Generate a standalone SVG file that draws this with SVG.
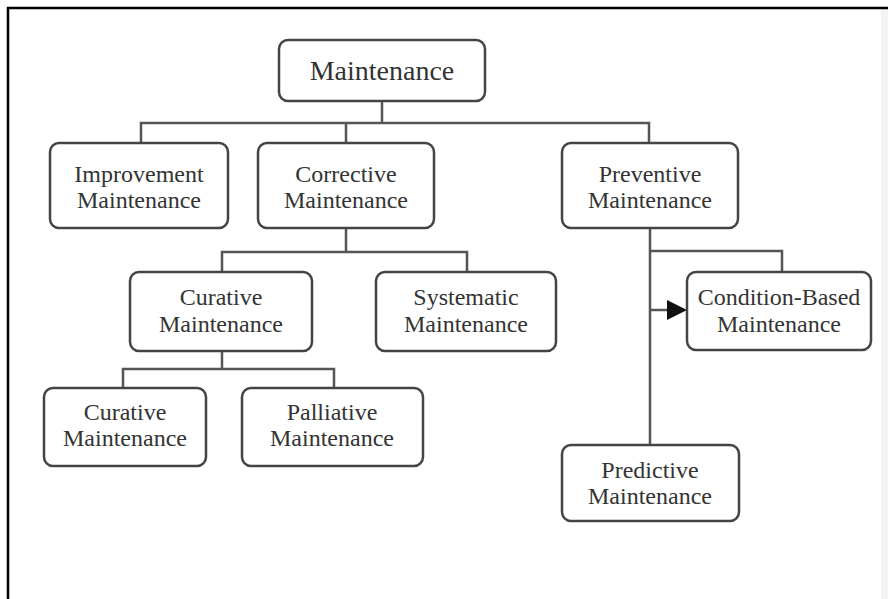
<svg xmlns="http://www.w3.org/2000/svg" width="888" height="599" viewBox="0 0 888 599">
  <style>
    .box { fill: #ffffff; stroke: #444444; stroke-width: 2.5; }
    .lbl { font-family: "Liberation Serif", "Times New Roman", serif; font-size: 24px; fill: #333333; text-anchor: middle; }
    .top { font-size: 28px; }
    .conn { fill: none; stroke: #555555; stroke-width: 2.5; }
  </style>
  <defs>
    <marker id="arrow" viewBox="0 0 10 10" refX="10" refY="5" markerWidth="8" markerHeight="8" markerUnits="userSpaceOnUse" orient="auto">
      <path d="M0,0 L10,5 L0,10 Z" fill="#111111"/>
    </marker>
  </defs>
  <rect x="0" y="0" width="888" height="599" fill="#ffffff"/>
  <rect x="881" y="9" width="7" height="590" fill="#f4f4f4"/>
  <g id="frame" stroke="#000000" stroke-width="2.5" fill="none">
    <line x1="7" y1="8" x2="888" y2="8"/>
    <line x1="8" y1="7" x2="8" y2="599"/>
  </g>

  <g id="connectors">
    <path class="conn" d="M382,101 V123"/>
    <path class="conn" d="M141,143 V123 H649 V143"/>
    <path class="conn" d="M346,123 V143"/>
    <path class="conn" d="M346,228 V252"/>
    <path class="conn" d="M222,272 V252 H467 V272"/>
    <path class="conn" d="M222,351 V369"/>
    <path class="conn" d="M123,388 V369 H334 V388"/>
    <path class="conn" d="M650,228 V445"/>
    <path class="conn" d="M650,251 H782 V272"/>
    <path d="M650,310 H668" stroke="#555555" stroke-width="2.5" fill="none"/>
    <path d="M667,300 L687,310 L667,320 Z" fill="#111111"/>
  </g>

  <g id="maintenance">
    <rect class="box" x="279" y="40" width="206" height="61" rx="9"/>
    <text class="lbl top" x="382" y="80">Maintenance</text>
  </g>
  <g id="improvement">
    <rect class="box" x="50" y="143" width="178" height="85" rx="9"/>
    <text class="lbl" x="139" y="182">Improvement</text>
    <text class="lbl" x="139" y="208">Maintenance</text>
  </g>
  <g id="corrective">
    <rect class="box" x="258" y="143" width="176" height="85" rx="9"/>
    <text class="lbl" x="346" y="182">Corrective</text>
    <text class="lbl" x="346" y="208">Maintenance</text>
  </g>
  <g id="preventive">
    <rect class="box" x="562" y="143" width="176" height="85" rx="9"/>
    <text class="lbl" x="650" y="182">Preventive</text>
    <text class="lbl" x="650" y="208">Maintenance</text>
  </g>
  <g id="curative">
    <rect class="box" x="130" y="272" width="182" height="79" rx="9"/>
    <text class="lbl" x="221" y="305">Curative</text>
    <text class="lbl" x="221" y="332">Maintenance</text>
  </g>
  <g id="systematic">
    <rect class="box" x="376" y="272" width="180" height="79" rx="9"/>
    <text class="lbl" x="466" y="305">Systematic</text>
    <text class="lbl" x="466" y="332">Maintenance</text>
  </g>
  <g id="condition-based">
    <rect class="box" x="687" y="272" width="184" height="78" rx="9"/>
    <text class="lbl" x="779" y="305">Condition-Based</text>
    <text class="lbl" x="779" y="332">Maintenance</text>
  </g>
  <g id="curative-2">
    <rect class="box" x="44" y="388" width="162" height="78" rx="9"/>
    <text class="lbl" x="125" y="420">Curative</text>
    <text class="lbl" x="125" y="446">Maintenance</text>
  </g>
  <g id="palliative">
    <rect class="box" x="242" y="388" width="181" height="78" rx="9"/>
    <text class="lbl" x="332" y="420">Palliative</text>
    <text class="lbl" x="332" y="446">Maintenance</text>
  </g>
  <g id="predictive">
    <rect class="box" x="562" y="445" width="177" height="76" rx="9"/>
    <text class="lbl" x="650" y="478">Predictive</text>
    <text class="lbl" x="650" y="504">Maintenance</text>
  </g>
</svg>
